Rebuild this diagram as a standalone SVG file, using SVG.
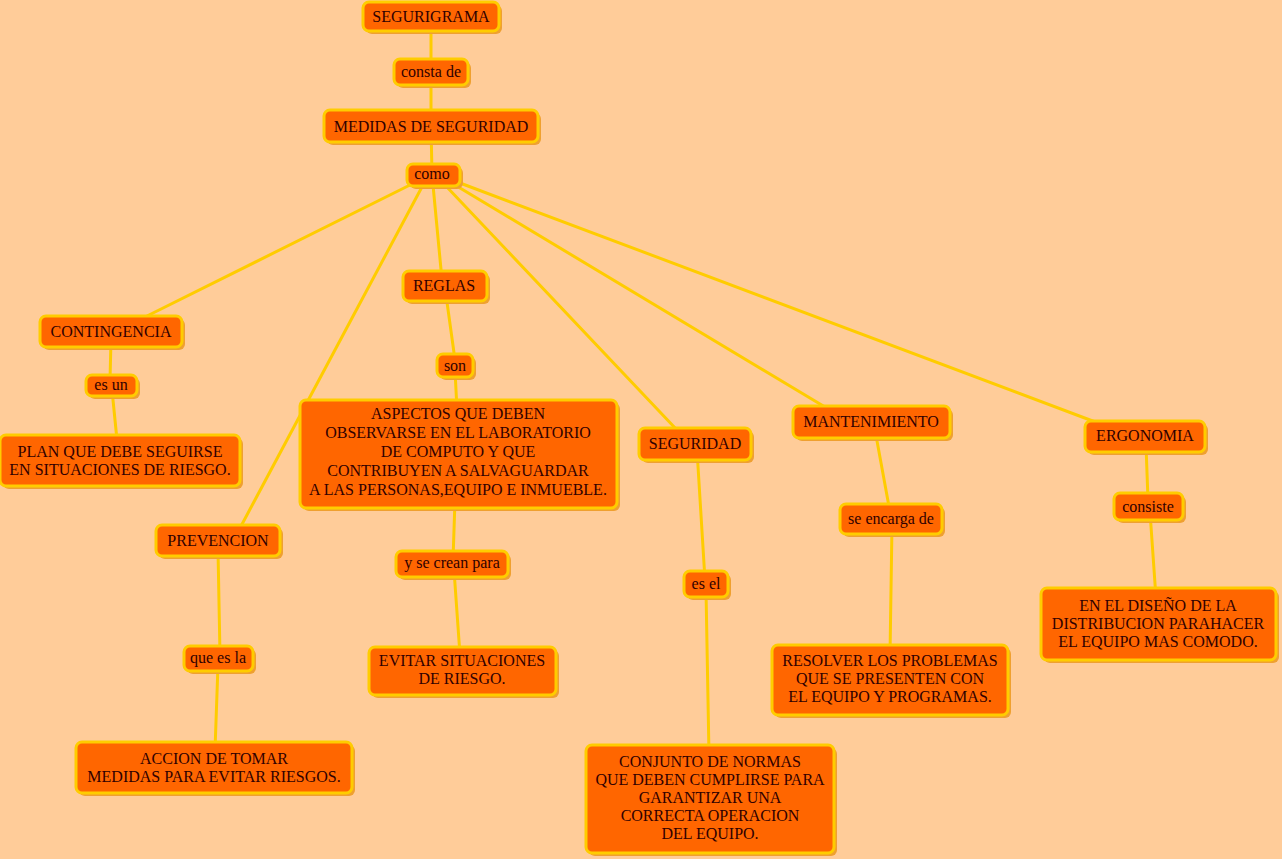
<svg xmlns="http://www.w3.org/2000/svg" width="1282" height="859" viewBox="0 0 1282 859">
<style>
.bg{fill:#FFCC99}
.c line{stroke:#FFCC00;stroke-width:3;stroke-linecap:round}
.n .sh{fill:#EFA030}
.n .bx{fill:#FF6600;stroke:#FFCC00;stroke-width:3}
.n text{font-family:"Liberation Serif","Times New Roman",serif;font-size:16px;fill:#300000;text-anchor:middle}
</style>
<rect class="bg" x="0" y="0" width="1282" height="859"/>
<g class="c" id="connectors">
<line x1="431" y1="20" x2="431" y2="70"/>
<line x1="431" y1="72" x2="431" y2="126"/>
<line x1="431" y1="126" x2="432" y2="174"/>
<line x1="410" y1="185" x2="143" y2="318"/>
<line x1="423" y1="185" x2="240" y2="528"/>
<line x1="433" y1="185" x2="442" y2="280"/>
<line x1="445" y1="185" x2="677" y2="430"/>
<line x1="455" y1="185" x2="830" y2="410"/>
<line x1="460" y1="183" x2="1098" y2="423"/>
<line x1="111" y1="340" x2="110" y2="380"/>
<line x1="112" y1="390" x2="117" y2="440"/>
<line x1="446" y1="295" x2="455" y2="360"/>
<line x1="455" y1="370" x2="457" y2="410"/>
<line x1="455" y1="500" x2="453" y2="560"/>
<line x1="454" y1="570" x2="460" y2="655"/>
<line x1="218" y1="550" x2="220" y2="655"/>
<line x1="218" y1="665" x2="215" y2="750"/>
<line x1="697" y1="450" x2="705" y2="580"/>
<line x1="706" y1="590" x2="709" y2="755"/>
<line x1="875" y1="430" x2="890" y2="512"/>
<line x1="892" y1="525" x2="890" y2="655"/>
<line x1="1146" y1="445" x2="1148" y2="500"/>
<line x1="1150" y1="512" x2="1156" y2="598"/>
</g>
<g class="n" id="n-segurigrama"><rect class="sh" x="366" y="5" width="136" height="29" rx="6"/><rect class="bx" x="363" y="2" width="136" height="29" rx="6"/><text x="431" y="22">SEGURIGRAMA</text></g>
<g class="n" id="n-consta"><rect class="sh" x="397" y="62" width="74" height="26" rx="6"/><rect class="bx" x="394" y="59" width="74" height="26" rx="6"/><text x="431" y="77">consta de</text></g>
<g class="n" id="n-medidas"><rect class="sh" x="327" y="113" width="214" height="32" rx="6"/><rect class="bx" x="324" y="110" width="214" height="32" rx="6"/><text x="431" y="132">MEDIDAS DE SEGURIDAD</text></g>
<g class="n" id="n-como"><rect class="sh" x="410" y="167" width="53" height="22" rx="6"/><rect class="bx" x="407" y="164" width="53" height="22" rx="6"/><text x="432" y="179">como</text></g>
<g class="n" id="n-contingencia"><rect class="sh" x="43" y="319" width="142" height="31" rx="6"/><rect class="bx" x="40" y="316" width="142" height="31" rx="6"/><text x="111" y="337">CONTINGENCIA</text></g>
<g class="n" id="n-esun"><rect class="sh" x="89" y="378" width="51" height="21" rx="6"/><rect class="bx" x="86" y="375" width="51" height="21" rx="6"/><text x="111" y="390">es un</text></g>
<g class="n" id="n-plan"><rect class="sh" x="3" y="438" width="240" height="51" rx="6"/><rect class="bx" x="0" y="435" width="240" height="51" rx="6"/><text x="120" y="457">PLAN QUE DEBE SEGUIRSE</text><text x="120" y="475">EN SITUACIONES DE RIESGO.</text></g>
<g class="n" id="n-reglas"><rect class="sh" x="406" y="274" width="84" height="30" rx="6"/><rect class="bx" x="403" y="271" width="84" height="30" rx="6"/><text x="444" y="291">REGLAS</text></g>
<g class="n" id="n-son"><rect class="sh" x="440" y="357" width="36" height="23" rx="6"/><rect class="bx" x="437" y="354" width="36" height="23" rx="6"/><text x="455" y="371">son</text></g>
<g class="n" id="n-aspectos"><rect class="sh" x="303" y="403" width="317" height="108" rx="6"/><rect class="bx" x="300" y="400" width="317" height="108" rx="6"/><text x="458" y="419">ASPECTOS QUE DEBEN</text><text x="458" y="438">OBSERVARSE EN EL LABORATORIO</text><text x="458" y="457">DE COMPUTO Y QUE</text><text x="458" y="476">CONTRIBUYEN A SALVAGUARDAR</text><text x="458" y="495">A LAS PERSONAS,EQUIPO E INMUEBLE.</text></g>
<g class="n" id="n-ysecrean"><rect class="sh" x="399" y="554" width="112" height="26" rx="6"/><rect class="bx" x="396" y="551" width="112" height="26" rx="6"/><text x="452" y="568">y se crean para</text></g>
<g class="n" id="n-evitar"><rect class="sh" x="372" y="650" width="187" height="48" rx="6"/><rect class="bx" x="369" y="647" width="187" height="48" rx="6"/><text x="462" y="666">EVITAR SITUACIONES</text><text x="462" y="684">DE RIESGO.</text></g>
<g class="n" id="n-prevencion"><rect class="sh" x="159" y="528" width="124" height="31" rx="6"/><rect class="bx" x="156" y="525" width="124" height="31" rx="6"/><text x="218" y="546">PREVENCION</text></g>
<g class="n" id="n-queesla"><rect class="sh" x="187" y="649" width="69" height="25" rx="6"/><rect class="bx" x="184" y="646" width="69" height="25" rx="6"/><text x="218" y="663">que es la</text></g>
<g class="n" id="n-accion"><rect class="sh" x="79" y="745" width="276" height="51" rx="6"/><rect class="bx" x="76" y="742" width="276" height="51" rx="6"/><text x="214" y="764">ACCION DE TOMAR</text><text x="214" y="782">MEDIDAS PARA EVITAR RIESGOS.</text></g>
<g class="n" id="n-seguridad"><rect class="sh" x="642" y="431" width="112" height="32" rx="6"/><rect class="bx" x="639" y="428" width="112" height="32" rx="6"/><text x="695" y="449">SEGURIDAD</text></g>
<g class="n" id="n-esel"><rect class="sh" x="687" y="574" width="44" height="26" rx="6"/><rect class="bx" x="684" y="571" width="44" height="26" rx="6"/><text x="706" y="589">es el</text></g>
<g class="n" id="n-conjunto"><rect class="sh" x="589" y="748" width="248" height="108" rx="6"/><rect class="bx" x="586" y="745" width="248" height="108" rx="6"/><text x="710" y="767">CONJUNTO DE NORMAS</text><text x="710" y="785">QUE DEBEN CUMPLIRSE PARA</text><text x="710" y="803">GARANTIZAR UNA</text><text x="710" y="821">CORRECTA OPERACION</text><text x="710" y="839">DEL EQUIPO.</text></g>
<g class="n" id="n-mantenimiento"><rect class="sh" x="796" y="409" width="157" height="32" rx="6"/><rect class="bx" x="793" y="406" width="157" height="32" rx="6"/><text x="871" y="427">MANTENIMIENTO</text></g>
<g class="n" id="n-seencarga"><rect class="sh" x="843" y="507" width="102" height="30" rx="6"/><rect class="bx" x="840" y="504" width="102" height="30" rx="6"/><text x="891" y="524">se encarga de</text></g>
<g class="n" id="n-resolver"><rect class="sh" x="775" y="648" width="236" height="70" rx="6"/><rect class="bx" x="772" y="645" width="236" height="70" rx="6"/><text x="890" y="666">RESOLVER LOS PROBLEMAS</text><text x="890" y="684">QUE SE PRESENTEN CON</text><text x="890" y="702">EL EQUIPO Y PROGRAMAS.</text></g>
<g class="n" id="n-ergonomia"><rect class="sh" x="1088" y="424" width="120" height="31" rx="6"/><rect class="bx" x="1085" y="421" width="120" height="31" rx="6"/><text x="1145" y="441">ERGONOMIA</text></g>
<g class="n" id="n-consiste"><rect class="sh" x="1117" y="496" width="69" height="27" rx="6"/><rect class="bx" x="1114" y="493" width="69" height="27" rx="6"/><text x="1148" y="512">consiste</text></g>
<g class="n" id="n-diseno"><rect class="sh" x="1044" y="591" width="235" height="72" rx="6"/><rect class="bx" x="1041" y="588" width="235" height="72" rx="6"/><text x="1158" y="611">EN EL DISEÑO DE LA</text><text x="1158" y="629">DISTRIBUCION PARAHACER</text><text x="1158" y="647">EL EQUIPO MAS COMODO.</text></g>
</svg>
